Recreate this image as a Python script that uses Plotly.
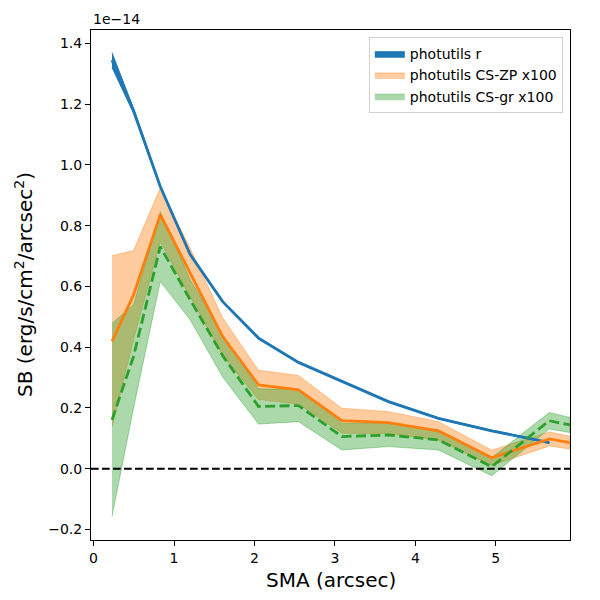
import plotly.graph_objects as go

# ---- data (surface brightness in units of 1e-14 erg/s/cm^2/arcsec^2) ----
sma_r = [0.229, 0.497, 0.829, 1.201, 1.605, 2.05, 2.547, 3.086, 3.665, 4.286, 4.949, 5.665]
sb_r = [1.345, 1.178, 0.929, 0.705, 0.550, 0.430, 0.350, 0.287, 0.221, 0.166, 0.125, 0.086]
sb_r_err = [0.024, 0.008, 0.004, 0.003, 0.003, 0.003, 0.002, 0.002, 0.002, 0.002, 0.002, 0.002]

sma_cs = [0.229, 0.497, 0.829, 1.201, 1.605, 2.05, 2.547, 3.086, 3.665, 4.286, 4.949, 5.665, 5.922]
sb_zp = [0.419, 0.572, 0.836, 0.645, 0.435, 0.276, 0.260, 0.158, 0.152, 0.125, 0.036, 0.098, 0.086]
sb_zp_err = [0.282, 0.146, 0.088, 0.080, 0.062, 0.048, 0.047, 0.041, 0.036, 0.030, 0.025, 0.023, 0.021]
sb_gr = [0.161, 0.370, 0.731, 0.556, 0.372, 0.205, 0.208, 0.106, 0.111, 0.095, 0.007, 0.158, 0.144]
sb_gr_err = [0.318, 0.170, 0.115, 0.066, 0.070, 0.058, 0.053, 0.044, 0.038, 0.033, 0.030, 0.027, 0.025]

xticks = [0, 1, 2, 3, 4, 5]
yticks = [-0.2, 0.0, 0.2, 0.4, 0.6, 0.8, 1.0, 1.2, 1.4]
ytick_labels = ["\u22120.2", "0.0", "0.2", "0.4", "0.6", "0.8", "1.0", "1.2", "1.4"]

FONT = "DejaVu Sans"
BLUE = "#1f77b4"
ORANGE = "#ff7f0e"
GREEN = "#2ca02c"


def band(x, y, e):
    lo = [a - b for a, b in zip(y, e)]
    hi = [a + b for a, b in zip(y, e)]
    return x + x[::-1], hi + lo[::-1]


fig = go.Figure()

bx, by = band(sma_r, sb_r, sb_r_err)
fig.add_trace(go.Scatter(x=bx, y=by, fill="toself", fillcolor=BLUE, mode="lines",
                         line=dict(color=BLUE, width=1), name="photutils r"))
bx, by = band(sma_cs, sb_zp, sb_zp_err)
fig.add_trace(go.Scatter(x=bx, y=by, fill="toself", fillcolor="rgba(255,127,14,0.4)", mode="lines",
                         line=dict(color="rgba(255,127,14,0.4)", width=1), name="photutils CS-ZP x100"))
bx, by = band(sma_cs, sb_gr, sb_gr_err)
fig.add_trace(go.Scatter(x=bx, y=by, fill="toself", fillcolor="rgba(44,160,44,0.4)", mode="lines",
                         line=dict(color="rgba(44,160,44,0.4)", width=1), name="photutils CS-gr x100"))

fig.add_trace(go.Scatter(x=sma_r, y=sb_r, mode="lines", line=dict(color=BLUE, width=2.8),
                         showlegend=False))
fig.add_trace(go.Scatter(x=sma_cs, y=sb_zp, mode="lines", line=dict(color=ORANGE, width=2.8),
                         showlegend=False))
fig.add_trace(go.Scatter(x=sma_cs, y=sb_gr, mode="lines",
                         line=dict(color=GREEN, width=2.8, dash="10px,4.4px"), showlegend=False))

fig.add_hline(y=0, line=dict(color="black", width=2, dash="7.7px,3.3px"))

axis_common = dict(showline=True, linecolor="black", linewidth=1, mirror=True,
                   ticks="outside", ticklen=5, tickwidth=1, tickcolor="black",
                   showgrid=False, zeroline=False,
                   tickfont=dict(family=FONT, size=14, color="black"))

fig.update_xaxes(range=[-0.032, 5.922], tickvals=xticks, **axis_common)
fig.update_yaxes(range=[-0.2345, 1.444], tickvals=yticks, ticktext=ytick_labels, **axis_common)

# the page body has an 8px default margin; size the figure to fit the 600px window
fig.update_layout(
    width=592, height=592,
    margin=dict(l=83, r=30, t=22, b=60),
    plot_bgcolor="white", paper_bgcolor="white",
    font=dict(family=FONT, size=14, color="black"),
    legend=dict(x=0.985, y=0.986, xanchor="right", yanchor="top",
                bgcolor="white", bordercolor="#d0d0d0", borderwidth=1,
                font=dict(family=FONT, size=14, color="black")),
    annotations=[
        dict(text="1e\u221214", xref="paper", yref="paper", x=0, y=1.0, xanchor="left",
             yanchor="bottom", yshift=1, showarrow=False, font=dict(family=FONT, size=14)),
        dict(text="SMA (arcsec)", xref="paper", yref="paper", x=0.5, y=0, xanchor="center",
             yanchor="top", yshift=-26, showarrow=False, font=dict(family=FONT, size=20)),
        dict(text="SB (erg/s/cm<sup>2</sup>/arcsec<sup>2</sup>)", xref="paper", yref="paper",
             x=0, y=0.5, xanchor="right", yanchor="middle", xshift=-52, textangle=-90,
             showarrow=False, font=dict(family=FONT, size=20)),
    ],
)

fig.write_html("out.html")
